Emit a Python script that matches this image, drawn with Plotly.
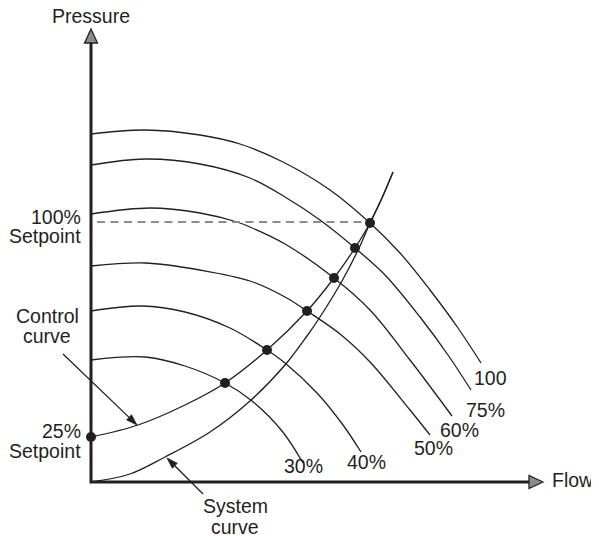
import math
import plotly.graph_objects as go

# Arbitrary units: flow (x) and pressure (y)
curve_labels = ["100", "75%", "60%", "50%", "40%", "30%"]

pump_flow = {
    "100": [0, 54, 109, 149, 192, 239, 279, 309, 339, 367, 390],
    "75%": [0, 54, 109, 159, 194, 229, 264, 294, 329, 357, 380],
    "60%": [0, 59, 109, 146, 159, 194, 243, 279, 319, 361],
    "50%": [0, 54, 109, 159, 194, 216, 249, 279, 319, 339],
    "40%": [0, 51, 94, 139, 176, 194, 226, 252, 270],
    "30%": [0, 54, 94, 134, 161, 191, 212],
}
pump_pressure = {
    "100": [348, 352, 347, 338, 320, 292, 259, 229, 192, 154, 119],
    "75%": [317, 323, 318, 304, 285, 262, 234, 207, 165, 127, 92],
    "60%": [268, 274, 269, 260, 255, 238, 204, 172, 122, 66],
    "50%": [216, 219, 212, 201, 185, 171, 148, 120, 72, 47],
    "40%": [171, 176, 170, 154, 132, 119, 89, 57, 30],
    "30%": [122, 125, 116, 99, 81, 51, 19],
}

system_flow = [0, 39, 74, 119, 159, 194, 216, 229, 251, 269, 279, 291, 302]
system_pressure = [0, 8, 25, 50, 81, 117, 146, 165, 201, 236, 259, 284, 310]

control_flow = [0, 47, 94, 134, 176, 216, 243, 264, 279, 291, 302]
control_pressure = [45, 57, 77, 99, 132, 171, 204, 234, 259, 284, 310]

op_flow = [279, 264, 243, 216, 176, 134, 0]
op_pressure = [259, 234, 204, 171, 132, 99, 45]

setpoint_100 = 260
setpoint_25 = 45

INK = "#231f20"
FONT = dict(family="Liberation Sans, Arial, sans-serif", size=19.5, color=INK)

fig = go.Figure()

for name in curve_labels:
    fig.add_trace(go.Scatter(x=pump_flow[name], y=pump_pressure[name], mode="lines",
                             line=dict(color=INK, width=1.3, shape="spline", smoothing=1.0),
                             hoverinfo="skip", showlegend=False))

fig.add_trace(go.Scatter(x=system_flow, y=system_pressure, mode="lines",
                         line=dict(color=INK, width=1.3, shape="spline", smoothing=1.0),
                         hoverinfo="skip", showlegend=False))
fig.add_trace(go.Scatter(x=control_flow, y=control_pressure, mode="lines",
                         line=dict(color=INK, width=1.3, shape="spline", smoothing=1.0),
                         hoverinfo="skip", showlegend=False))

# dashed 100% setpoint line
fig.add_trace(go.Scatter(x=[6, op_flow[0]], y=[setpoint_100, setpoint_100], mode="lines",
                         line=dict(color="#8c8c8c", width=2, dash="8px,5.5px"),
                         hoverinfo="skip", showlegend=False))

fig.add_trace(go.Scatter(x=op_flow, y=op_pressure, mode="markers",
                         marker=dict(color=INK, size=10),
                         hoverinfo="skip", showlegend=False, cliponaxis=False))

# axes with arrowheads
fig.add_shape(type="path", path="M 0,439 L 0,0 L 438,0", xref="x", yref="y",
              line=dict(color=INK, width=3))
fig.add_shape(type="path", path="M 0,453 L -6.5,439 L 6.5,439 Z", xref="x", yref="y",
              line=dict(color=INK, width=1.3), fillcolor="#8c8c8c")
fig.add_shape(type="path", path="M 452,0 L 438,6.5 L 438,-6.5 Z", xref="x", yref="y",
              line=dict(color=INK, width=1.3), fillcolor="#8c8c8c")

def txt(x, y, s, xa="center"):
    fig.add_annotation(x=x, y=y, text=s, showarrow=False, xanchor=xa, yanchor="middle",
                       font=FONT, xref="x", yref="y", borderpad=0)

txt(0, 466, "Pressure")
txt(460, 2, "Flow", "left")
txt(-9, 265.5, "100%", "right")
txt(-9, 246.5, "Setpoint", "right")
txt(-44, 166.5, "Control")
txt(-44, 146.5, "curve")
txt(-9, 51, "25%", "right")
txt(-9, 31.5, "Setpoint", "right")
txt(144, -23.5, "System")
txt(144, -44.5, "curve")

label_pos = {"100": (382, 104.5), "75%": (374, 72.5), "60%": (348, 52.5),
             "50%": (322, 34), "40%": (255, 20), "30%": (192, 16)}
for name in curve_labels:
    lx, ly = label_pos[name]
    txt(lx, ly, name, "left")

# pointer arrows (shaft + filled head); 1 data unit == 1 px on both axes
def pointer(tail, tip, head_len=11, half_w=3.5):
    dx, dy = tip[0] - tail[0], tip[1] - tail[1]
    d = math.hypot(dx, dy)
    ux, uy = dx / d, dy / d
    bx, by = tip[0] - head_len * ux, tip[1] - head_len * uy
    nx, ny = -uy, ux
    fig.add_shape(type="line", x0=tail[0], y0=tail[1], x1=bx, y1=by, xref="x", yref="y",
                  line=dict(color=INK, width=1.3))
    p = "M {:.2f},{:.2f} L {:.2f},{:.2f} L {:.2f},{:.2f} Z".format(
        tip[0], tip[1], bx + half_w * nx, by + half_w * ny, bx - half_w * nx, by - half_w * ny)
    fig.add_shape(type="path", path=p, xref="x", yref="y",
                  line=dict(color=INK, width=0.8), fillcolor=INK)

pointer((-28, 128), (46, 57))
pointer((112, -12), (76, 24))

# page has an 8px body margin, so the axes are placed 8px up/left inside the figure
fig.update_layout(width=599, height=536, margin=dict(l=0, r=0, t=0, b=0),
                  paper_bgcolor="white", plot_bgcolor="white",
                  xaxis=dict(range=[-83, 516], visible=False, fixedrange=True),
                  yaxis=dict(range=[-62, 474], visible=False, fixedrange=True))

fig.write_html("out.html")
